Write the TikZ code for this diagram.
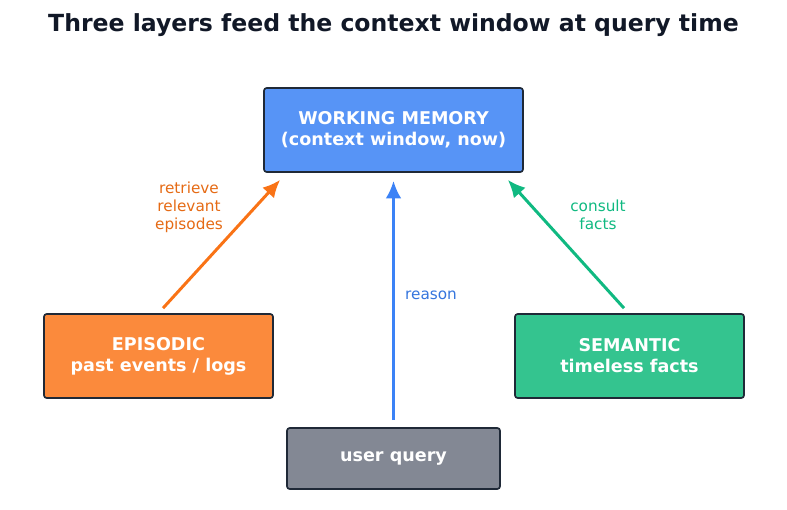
\documentclass[tikz,border=0pt]{standalone}
\usepackage{fontspec}
\setmainfont{DejaVu Sans}
\usepackage{tikz}
\usetikzlibrary{calc,arrows.meta}

\definecolor{wmblue}{RGB}{87,148,246}
\definecolor{epiorange}{RGB}{251,138,60}
\definecolor{semgreen}{RGB}{52,196,143}
\definecolor{querygray}{RGB}{131,136,148}
\definecolor{edgedark}{RGB}{31,41,55}
\definecolor{titledark}{RGB}{17,24,39}
\definecolor{arrorange}{RGB}{249,115,22}
\definecolor{arrblue}{RGB}{59,130,246}
\definecolor{arrgreen}{RGB}{16,185,129}

\begin{document}
\begin{tikzpicture}[x=0.02cm,y=-0.02cm,
        layer/.style={rectangle,rounded corners=1.5pt,draw=edgedark,line width=0.95pt,
            text=white,align=center,inner sep=0pt,minimum height=1.68cm,
            font=\fontsize{10}{12}\selectfont\bfseries},
        feed/.style={draw=#1,line width=1.7pt,-{Latex[length=10pt,width=9pt]}},
        lbl/.style={align=center,font=\fontsize{8.7}{10.2}\selectfont}
        ]
    \useasboundingbox (0,0) rectangle (787,510);

    \node[font=\fontsize{13.4}{16}\selectfont\bfseries,text=titledark] (title) at (393.5,25)
        {Three layers feed the context window at query time};

    % the three layers and the query
    \node[layer,fill=wmblue,minimum width=5.18cm] (wm) at (393.5,130)
        {WORKING MEMORY\\(context window, now)};
    \node[layer,fill=epiorange,minimum width=4.58cm] (epi) at (158.5,356)
        {EPISODIC\\past events / logs};
    \node[layer,fill=semgreen,minimum width=4.58cm] (sem) at (629.5,356)
        {SEMANTIC\\timeless facts};
    \node[layer,fill=querygray,minimum width=4.26cm,minimum height=1.22cm] (uq) at (393.5,458.5)
        {user query};

    % arrows into the context window
    \draw[feed=arrorange] ($(epi.north)+(4.5,-5)$) -- ($(wm.south west)+(17,7)$);
    \draw[feed=arrblue] ($(uq.north)+(0,-7)$) -- ($(wm.south)+(0,8)$);
    \draw[feed=arrgreen] ($(sem.north)+(-5.5,-5)$) -- ($(wm.south east)+(-16,7)$);

    \node[lbl,text=arrorange!92!black] (retr) at (189,207) {retrieve\\relevant\\episodes};
    \node[lbl,text=arrblue!90!black] (rsn) at (431,295) {reason};
    \node[lbl,text=arrgreen] (cons) at (598,215) {consult\\facts};
\end{tikzpicture}
\end{document}
